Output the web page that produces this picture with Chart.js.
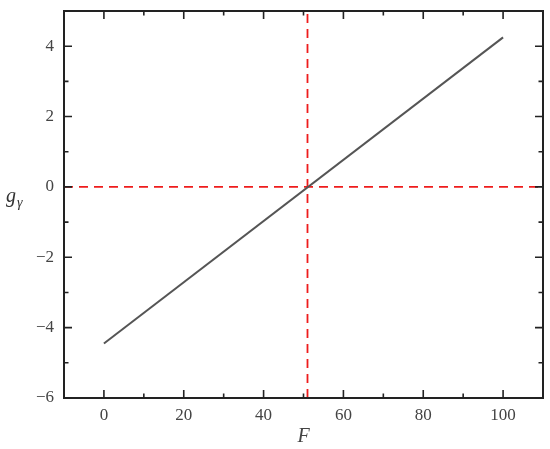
<!DOCTYPE html>
<html>
<head>
<meta charset="utf-8">
<script src="https://cdn.jsdelivr.net/npm/chart.js@4"></script>
<style>
  html, body { margin: 0; padding: 0; background: #fff; }
  #wrap { width: 550px; height: 449px; position: relative; }
</style>
</head>
<body>
<div id="wrap"><canvas id="chart1"></canvas></div>
<script>
// values
var lineF = [0, 100];
var lineG = [-4.45, 4.25];
var zeroF = 51;         // where g crosses zero
var xRange = [-10, 110];
var yRange = [-6, 5];
var xMajor = [0, 20, 40, 60, 80, 100];
var xMinor = [10, 30, 50, 70, 90];
var yMajor = [-6, -4, -2, 0, 2, 4];
var yMinor = [-5, -3, -1, 1, 3];

var serif = '"Liberation Serif", "DejaVu Serif", serif';

function minus(v) {
    return String(v).replace('-', '\u2212');
}

// frame, inward ticks on all four sides, and the horizontal y title
var framePlugin = {
    id: 'frame',
    afterDraw: function(chart) {
        var ctx = chart.ctx;
        var a = chart.chartArea;
        var x = chart.scales.x, y = chart.scales.y;
        ctx.save();
        ctx.strokeStyle = '#222';
        ctx.lineWidth = 2;
        ctx.strokeRect(a.left, a.top, a.right - a.left, a.bottom - a.top);

        ctx.lineWidth = 1.6;
        function tick(px, len, vertical) {
            ctx.beginPath();
            if (vertical) {
                ctx.moveTo(px, a.bottom); ctx.lineTo(px, a.bottom - len);
                ctx.moveTo(px, a.top); ctx.lineTo(px, a.top + len);
            } else {
                ctx.moveTo(a.left, px); ctx.lineTo(a.left + len, px);
                ctx.moveTo(a.right, px); ctx.lineTo(a.right - len, px);
            }
            ctx.stroke();
        }
        xMajor.forEach(function(v) { tick(x.getPixelForValue(v), 8, true); });
        xMinor.forEach(function(v) { tick(x.getPixelForValue(v), 4.5, true); });
        yMajor.forEach(function(v) { tick(y.getPixelForValue(v), 8, false); });
        yMinor.forEach(function(v) { tick(y.getPixelForValue(v), 4.5, false); });

        // y title: g with subscript gamma
        ctx.fillStyle = '#333';
        ctx.textBaseline = 'alphabetic';
        ctx.textAlign = 'left';
        ctx.font = 'italic 20px ' + serif;
        ctx.fillText('g', 6, 202);
        ctx.font = 'italic 14px ' + serif;
        ctx.fillText('\u03b3', 17, 207);
        ctx.restore();
    }
};

document.addEventListener('DOMContentLoaded', function() {
    var ctx1 = document.getElementById('chart1').getContext('2d');
    new Chart(ctx1, {
        type: 'scatter',
        data: {
            datasets: [
                {
                    label: 'g',
                    data: lineF.map(function(f, i) { return { x: f, y: lineG[i] }; }),
                    showLine: true,
                    borderColor: '#555',
                    borderWidth: 2,
                    pointRadius: 0
                },
                {
                    label: 'zero',
                    data: [{ x: xRange[0], y: 0 }, { x: xRange[1], y: 0 }],
                    showLine: true,
                    borderColor: '#ee1c1c',
                    borderWidth: 1.8,
                    borderDash: [9, 6],
                    pointRadius: 0
                },
                {
                    label: 'cross',
                    data: [{ x: zeroF, y: yRange[0] }, { x: zeroF, y: yRange[1] }],
                    showLine: true,
                    borderColor: '#ee1c1c',
                    borderWidth: 1.8,
                    borderDash: [9, 6],
                    pointRadius: 0
                }
            ]
        },
        options: {
            responsive: true,
            maintainAspectRatio: false,
            animation: false,
            layout: { padding: { top: 11, right: 7, left: 0, bottom: 0 } },
            plugins: {
                legend: { display: false },
                tooltip: { enabled: false }
            },
            scales: {
                x: {
                    type: 'linear',
                    min: xRange[0],
                    max: xRange[1],
                    grid: { display: false, drawTicks: false },
                    border: { display: false },
                    afterBuildTicks: function(s) {
                        s.ticks = xMajor.map(function(v) { return { value: v }; });
                    },
                    afterFit: function(s) {
                        s.height = 51;
                        s.paddingLeft = 0;
                        s.paddingRight = 0;
                    },
                    ticks: {
                        padding: 7,
                        color: '#444',
                        font: { family: serif, size: 17 },
                        callback: function(v) { return minus(v); }
                    },
                    title: {
                        display: true,
                        text: 'F',
                        color: '#444',
                        padding: { top: 0, bottom: 0 },
                        font: { family: serif, size: 20, style: 'italic' }
                    }
                },
                y: {
                    type: 'linear',
                    min: yRange[0],
                    max: yRange[1],
                    grid: { display: false, drawTicks: false },
                    border: { display: false },
                    afterBuildTicks: function(s) {
                        s.ticks = yMajor.map(function(v) { return { value: v }; });
                    },
                    afterFit: function(s) {
                        s.width = 64;
                        s.paddingTop = 0;
                        s.paddingBottom = 0;
                    },
                    ticks: {
                        padding: 10,
                        color: '#444',
                        font: { family: serif, size: 17 },
                        callback: function(v) { return minus(v); }
                    }
                }
            }
        },
        plugins: [framePlugin]
    });
});
</script>
</body>
</html>
